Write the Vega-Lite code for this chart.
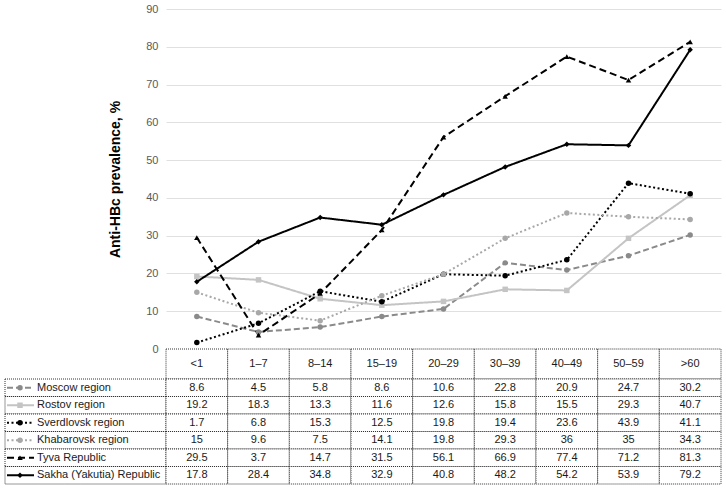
{
  "$schema": "https://vega.github.io/schema/vega-lite/v6.json",
  "padding": {"left": 4, "top": 3, "right": 0, "bottom": 0},
  "background": "white",
  "config": {"font": "Liberation Sans", "view": {"stroke": null}},
  "datasets": {
    "vals": [
      {"region": "Moscow region", "age": "<1", "value": 8.6},
      {"region": "Moscow region", "age": "1–7", "value": 4.5},
      {"region": "Moscow region", "age": "8–14", "value": 5.8},
      {"region": "Moscow region", "age": "15–19", "value": 8.6},
      {"region": "Moscow region", "age": "20–29", "value": 10.6},
      {"region": "Moscow region", "age": "30–39", "value": 22.8},
      {"region": "Moscow region", "age": "40–49", "value": 20.9},
      {"region": "Moscow region", "age": "50–59", "value": 24.7},
      {"region": "Moscow region", "age": ">60", "value": 30.2},
      {"region": "Rostov region", "age": "<1", "value": 19.2},
      {"region": "Rostov region", "age": "1–7", "value": 18.3},
      {"region": "Rostov region", "age": "8–14", "value": 13.3},
      {"region": "Rostov region", "age": "15–19", "value": 11.6},
      {"region": "Rostov region", "age": "20–29", "value": 12.6},
      {"region": "Rostov region", "age": "30–39", "value": 15.8},
      {"region": "Rostov region", "age": "40–49", "value": 15.5},
      {"region": "Rostov region", "age": "50–59", "value": 29.3},
      {"region": "Rostov region", "age": ">60", "value": 40.7},
      {"region": "Sverdlovsk region", "age": "<1", "value": 1.7},
      {"region": "Sverdlovsk region", "age": "1–7", "value": 6.8},
      {"region": "Sverdlovsk region", "age": "8–14", "value": 15.3},
      {"region": "Sverdlovsk region", "age": "15–19", "value": 12.5},
      {"region": "Sverdlovsk region", "age": "20–29", "value": 19.8},
      {"region": "Sverdlovsk region", "age": "30–39", "value": 19.4},
      {"region": "Sverdlovsk region", "age": "40–49", "value": 23.6},
      {"region": "Sverdlovsk region", "age": "50–59", "value": 43.9},
      {"region": "Sverdlovsk region", "age": ">60", "value": 41.1},
      {"region": "Khabarovsk region", "age": "<1", "value": 15},
      {"region": "Khabarovsk region", "age": "1–7", "value": 9.6},
      {"region": "Khabarovsk region", "age": "8–14", "value": 7.5},
      {"region": "Khabarovsk region", "age": "15–19", "value": 14.1},
      {"region": "Khabarovsk region", "age": "20–29", "value": 19.8},
      {"region": "Khabarovsk region", "age": "30–39", "value": 29.3},
      {"region": "Khabarovsk region", "age": "40–49", "value": 36},
      {"region": "Khabarovsk region", "age": "50–59", "value": 35},
      {"region": "Khabarovsk region", "age": ">60", "value": 34.3},
      {"region": "Tyva Republic", "age": "<1", "value": 29.5},
      {"region": "Tyva Republic", "age": "1–7", "value": 3.7},
      {"region": "Tyva Republic", "age": "8–14", "value": 14.7},
      {"region": "Tyva Republic", "age": "15–19", "value": 31.5},
      {"region": "Tyva Republic", "age": "20–29", "value": 56.1},
      {"region": "Tyva Republic", "age": "30–39", "value": 66.9},
      {"region": "Tyva Republic", "age": "40–49", "value": 77.4},
      {"region": "Tyva Republic", "age": "50–59", "value": 71.2},
      {"region": "Tyva Republic", "age": ">60", "value": 81.3},
      {"region": "Sakha (Yakutia) Republic", "age": "<1", "value": 17.8},
      {"region": "Sakha (Yakutia) Republic", "age": "1–7", "value": 28.4},
      {"region": "Sakha (Yakutia) Republic", "age": "8–14", "value": 34.8},
      {"region": "Sakha (Yakutia) Republic", "age": "15–19", "value": 32.9},
      {"region": "Sakha (Yakutia) Republic", "age": "20–29", "value": 40.8},
      {"region": "Sakha (Yakutia) Republic", "age": "30–39", "value": 48.2},
      {"region": "Sakha (Yakutia) Republic", "age": "40–49", "value": 54.2},
      {"region": "Sakha (Yakutia) Republic", "age": "50–59", "value": 53.9},
      {"region": "Sakha (Yakutia) Republic", "age": ">60", "value": 79.2}
    ]
  },
  "data": {"name": "vals"},
  "columns": 2,
  "spacing": 0,
  "bounds": "flush",
  "concat": [
    {"width": 161, "height": 340, "mark": {"type": "text", "text": ""}, "encoding": {}},
    {
      "width": 555,
      "height": 340,
      "encoding": {
        "x": {"field": "age", "type": "ordinal", "scale": {"type": "point", "padding": 0.5, "domain": ["<1", "1–7", "8–14", "15–19", "20–29", "30–39", "40–49", "50–59", ">60"]}, "axis": null},
        "y": {"field": "value", "type": "quantitative", "scale": {"domain": [0, 90], "nice": false}, "axis": {"title": "Anti-HBc prevalence, %", "values": [0, 10, 20, 30, 40, 50, 60, 70, 80, 90], "tickCount": 10, "domain": false, "ticks": false, "gridColor": "#e0e0e0", "labelColor": "#595959", "labelFontSize": 11, "labelPadding": 8, "labelOverlap": false, "titleFontSize": 14, "titleFontWeight": "bold", "titleColor": "#000000", "titlePadding": 23}},
        "color": {"field": "region", "type": "nominal", "scale": {"domain": ["Moscow region", "Rostov region", "Sverdlovsk region", "Khabarovsk region", "Tyva Republic", "Sakha (Yakutia) Republic"], "range": ["#8a8a8a", "#c4c4c4", "#000000", "#a8a8a8", "#000000", "#000000"]}, "legend": null}
      },
      "layer": [
        {
          "mark": {"type": "line", "strokeWidth": 2},
          "encoding": {
            "strokeDash": {"field": "region", "type": "nominal", "scale": {"domain": ["Moscow region", "Rostov region", "Sverdlovsk region", "Khabarovsk region", "Tyva Republic", "Sakha (Yakutia) Republic"], "range": [[6, 3], [1, 0], [2, 2.5], [2, 2.5], [7, 4], [1, 0]]}, "legend": null}
          }
        },
        {
          "mark": {"type": "point", "filled": true, "opacity": 1},
          "encoding": {
            "shape": {"field": "region", "type": "nominal", "scale": {"domain": ["Moscow region", "Rostov region", "Sverdlovsk region", "Khabarovsk region", "Tyva Republic", "Sakha (Yakutia) Republic"], "range": ["circle", "square", "circle", "circle", "triangle-up", "diamond"]}, "legend": null},
            "size": {"field": "region", "type": "nominal", "scale": {"domain": ["Moscow region", "Rostov region", "Sverdlovsk region", "Khabarovsk region", "Tyva Republic", "Sakha (Yakutia) Republic"], "range": [30, 30, 45, 30, 30, 30]}, "legend": null}
          }
        }
      ]
    },
    {"width": 161, "height": 30, "mark": {"type": "text", "text": ""}, "encoding": {}},
    {
      "width": 555,
      "height": 30,
      "transform": [{"aggregate": [{"op": "count", "as": "n"}], "groupby": ["age"]}],
      "encoding": {
        "x": {"field": "age", "type": "ordinal", "scale": {"type": "band", "domain": ["<1", "1–7", "8–14", "15–19", "20–29", "30–39", "40–49", "50–59", ">60"], "paddingInner": 0, "paddingOuter": 0}, "axis": null}
      },
      "layer": [
        {"mark": {"type": "rect", "fill": "white", "stroke": "#333333", "strokeDash": [1, 1], "strokeWidth": 1}},
        {
          "mark": {"type": "text", "align": "center", "baseline": "middle", "fontSize": 11, "color": "#1a1a1a"},
          "encoding": {"text": {"field": "age", "type": "nominal"}}
        }
      ]
    },
    {
      "width": 161,
      "height": 105,
      "transform": [{"aggregate": [{"op": "count", "as": "n"}], "groupby": ["region"]}],
      "encoding": {
        "y": {"field": "region", "type": "nominal", "scale": {"type": "band", "domain": ["Moscow region", "Rostov region", "Sverdlovsk region", "Khabarovsk region", "Tyva Republic", "Sakha (Yakutia) Republic"], "paddingInner": 0, "paddingOuter": 0}, "axis": null}
      },
      "layer": [
        {"mark": {"type": "rect", "fill": "white", "stroke": "#333333", "strokeDash": [1, 1], "strokeWidth": 1}},
        {
          "mark": {"type": "rule", "strokeWidth": 2, "x": 2, "x2": 29},
          "encoding": {
            "color": {"field": "region", "type": "nominal", "scale": {"domain": ["Moscow region", "Rostov region", "Sverdlovsk region", "Khabarovsk region", "Tyva Republic", "Sakha (Yakutia) Republic"], "range": ["#8a8a8a", "#c4c4c4", "#000000", "#a8a8a8", "#000000", "#000000"]}, "legend": null},
            "strokeDash": {"field": "region", "type": "nominal", "scale": {"domain": ["Moscow region", "Rostov region", "Sverdlovsk region", "Khabarovsk region", "Tyva Republic", "Sakha (Yakutia) Republic"], "range": [[6, 3], [1, 0], [2, 2.5], [2, 2.5], [7, 4], [1, 0]]}, "legend": null}
          }
        },
        {
          "mark": {"type": "point", "filled": true, "opacity": 1, "x": 15},
          "encoding": {
            "color": {"field": "region", "type": "nominal", "scale": {"domain": ["Moscow region", "Rostov region", "Sverdlovsk region", "Khabarovsk region", "Tyva Republic", "Sakha (Yakutia) Republic"], "range": ["#8a8a8a", "#c4c4c4", "#000000", "#a8a8a8", "#000000", "#000000"]}, "legend": null},
            "shape": {"field": "region", "type": "nominal", "scale": {"domain": ["Moscow region", "Rostov region", "Sverdlovsk region", "Khabarovsk region", "Tyva Republic", "Sakha (Yakutia) Republic"], "range": ["circle", "square", "circle", "circle", "triangle-up", "diamond"]}, "legend": null},
            "size": {"field": "region", "type": "nominal", "scale": {"domain": ["Moscow region", "Rostov region", "Sverdlovsk region", "Khabarovsk region", "Tyva Republic", "Sakha (Yakutia) Republic"], "range": [30, 30, 45, 30, 30, 30]}, "legend": null}
          }
        },
        {
          "mark": {"type": "text", "align": "left", "baseline": "middle", "fontSize": 11, "color": "#1a1a1a", "x": 32},
          "encoding": {"text": {"field": "region", "type": "nominal"}}
        }
      ]
    },
    {
      "width": 555,
      "height": 105,
      "encoding": {
        "x": {"field": "age", "type": "ordinal", "scale": {"type": "band", "domain": ["<1", "1–7", "8–14", "15–19", "20–29", "30–39", "40–49", "50–59", ">60"], "paddingInner": 0, "paddingOuter": 0}, "axis": null},
        "y": {"field": "region", "type": "nominal", "scale": {"type": "band", "domain": ["Moscow region", "Rostov region", "Sverdlovsk region", "Khabarovsk region", "Tyva Republic", "Sakha (Yakutia) Republic"], "paddingInner": 0, "paddingOuter": 0}, "axis": null}
      },
      "layer": [
        {"mark": {"type": "rect", "fill": "white", "stroke": "#333333", "strokeDash": [1, 1], "strokeWidth": 1}},
        {
          "mark": {"type": "text", "align": "center", "baseline": "middle", "fontSize": 11, "color": "#1a1a1a"},
          "encoding": {"text": {"field": "value", "type": "nominal"}}
        }
      ]
    }
  ]
}
